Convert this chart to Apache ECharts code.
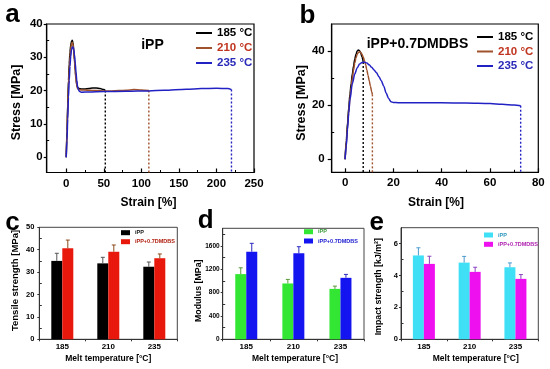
<!DOCTYPE html>
<html><head><meta charset="utf-8">
<script src="https://cdn.jsdelivr.net/npm/echarts@6/dist/echarts.min.js"></script>
<style>html,body{margin:0;padding:0;background:#fff}#c{width:550px;height:369px}</style>
</head><body><div id="c"></div>
<script>
// ---------------- data ----------------
const tempNames = ['185 °C', '210 °C', '235 °C'];
// panel a: iPP stress-strain
const curveA185 = [[0,0],[1,8],[2,16],[3,23],[4,28],[5,31.5],[6,33.6],[7,34.8],[8,35.1],[9,34.4],[10,32.3],[11,29.3],[12,26.2],[13,23.6],[14,21.9],[15,21],[17,20.6],[20,20.5],[25,20.5],[30,20.6],[35,20.8],[40,20.8],[45,20.6],[50,20.3],[52,20]];
const curveA210 = [[0,0],[1,7],[2,14.5],[3,21.5],[4,26.5],[5,30.2],[6,32.7],[7,34],[8,34.5],[9,33.9],[10,31.8],[11,28.8],[12,25.8],[13,23.2],[14,21.6],[15,20.7],[17,20.3],[20,20.2],[30,20.1],[40,20],[50,19.9],[60,19.9],[70,20],[80,20.1],[90,20.3],[100,20.2],[110,20]];
const curveA235 = [[0,0],[1,5],[2,11.5],[3,18],[4,23.2],[5,27.3],[6,30.3],[7,32.2],[8,33],[9,33.1],[10,32.4],[11,30.8],[12,28.3],[13,25.6],[14,23.2],[15,21.4],[16,20.3],[18,19.7],[20,19.5],[30,19.6],[50,19.7],[80,19.8],[110,19.9],[130,20.1],[160,20.4],[180,20.6],[200,20.7],[215,20.6],[220,20.3]];
const breakA = [[52,20],[110,20],[220,20.3]];
// panel b: iPP+0.7DMDBS stress-strain
const curveB185 = [[0,0],[0.5,7],[1,13.5],[1.5,19],[2,24],[2.5,28],[3,31.5],[3.5,34.5],[4,37],[4.5,38.8],[5,40],[5.5,40.4],[6,40.1],[6.5,39.2],[7,37.8],[7.5,36]];
const curveB210 = [[0,0],[0.5,6],[1,12],[1.5,17.5],[2,22.5],[2.5,26.5],[3,30],[3.5,33],[4,35.5],[4.5,37.5],[5,38.8],[5.5,39.5],[6,39.7],[6.5,39.5],[7,38.8],[7.5,37.8],[8,36.5],[8.5,35],[9,33],[9.5,31],[10,29],[10.5,27],[11,25],[11.3,24]];
const curveB235 = [[0,0],[0.5,5],[1,11],[1.5,17],[2,22],[3,28],[4,31.5],[5,33.8],[6,35.2],[7,35.8],[8,35.9],[9,35.6],[10,34.9],[11,34],[12,33],[13,32],[14,30.5],[15,29],[16,27],[17,24.5],[18,22.5],[19,21.3],[20,21],[22,20.9],[30,20.9],[40,20.9],[50,20.8],[60,20.6],[65,20.3],[70,20.1],[72.7,19.8]];
const breakB = [[7.5,36],[11.3,24],[72.7,19.8]];
// bar panels
const meltTemps = ['185', '210', '235'];
const tensileIPP = [35, 33.9, 32.4];
const tensileIPPErr = [3.4, 2.7, 2.1];
const tensileDM = [40.6, 39.1, 36.2];
const tensileDMErr = [3.7, 3.0, 1.9];
const modulusIPP = [1116, 956, 863];
const modulusIPPErr = [108, 69, 47];
const modulusDM = [1499, 1471, 1052];
const modulusDMErr = [144, 114, 59];
const impactIPP = [5.26, 4.81, 4.52];
const impactIPPErr = [0.48, 0.39, 0.27];
const impactDM = [4.73, 4.23, 3.79];
const impactDMErr = [0.48, 0.29, 0.27];
// tick labels
const ticksAx = [0, 50, 100, 150, 200, 250];
const minorAx = [25, 75, 125, 175, 225];
const ticksAy = [0, 10, 20, 30, 40];
const minorAy = [5, 15, 25, 35];
const ticksBx = [0, 20, 40, 60, 80];
const minorBx = [10, 30, 50, 70];
const ticksBy = [0, 20, 40];
const minorBy = [10, 30];
const ticksCy = [0, 10, 20, 30, 40, 50];
const minorCy = [5, 15, 25, 35, 45];
const ticksDy = [0, 400, 800, 1200, 1600];
const minorDy = [200, 600, 1000, 1400, 1800];
const ticksEy = [0, 2, 4, 6];
const minorEy = [1, 3, 5];

// ---------------- styling ----------------
const FF = 'Arial, "Liberation Sans", sans-serif';
const C_BLACK = '#000000', C_BROWN = '#a0522d', C_BLUE = '#2222c4';
const lineColors = [C_BLACK, C_BROWN, C_BLUE];
const textColors = ['#000000', '#c0341f', '#2a2ab8'];

const range = {
  a: {xmin: -26, xmax: 250, ymin: -4.6, ymax: 40},
  b: {xmin: -5.55, xmax: 80, ymin: -4.8, ymax: 50}
};

const chart = echarts.init(document.getElementById('c'), null, {renderer: 'canvas'});
const plain = v => String(v);

function valueX(grid, r, ticks, fs, margin) {
  return {type: 'value', gridIndex: grid, min: r.xmin, max: r.xmax, position: 'bottom',
    axisLine: {show: true, onZero: false, lineStyle: {color: '#000', width: 1.2}},
    axisTick: {show: true, inside: true, length: 4, customValues: ticks, lineStyle: {color: '#000', width: 1.2}},
    axisLabel: {show: true, customValues: ticks, formatter: plain, fontSize: fs, fontWeight: 'bold', fontFamily: FF, color: '#000', margin: margin},
    splitLine: {show: false}};
}
function valueY(grid, r, ticks, fs, margin, tlen) {
  return {type: 'value', gridIndex: grid, min: r.ymin, max: r.ymax, position: 'left',
    axisLine: {show: true, onZero: false, lineStyle: {color: '#000', width: 1.2}},
    axisTick: {show: true, inside: false, length: tlen, customValues: ticks, lineStyle: {color: '#000', width: 1.2}},
    axisLabel: {show: true, customValues: ticks, formatter: plain, fontSize: fs, fontWeight: 'bold', fontFamily: FF, color: '#000', margin: margin},
    splitLine: {show: false}};
}
function minorX(grid, min, max, vals, color) {
  return {type: 'value', gridIndex: grid, min: min, max: max, position: 'bottom', offset: 0,
    axisLine: {show: false, onZero: false}, axisLabel: {show: false}, splitLine: {show: false},
    axisTick: {show: true, inside: true, length: 2.5, customValues: vals, lineStyle: {color: color, width: 1}}};
}
function minorY(grid, min, max, vals, color) {
  return {type: 'value', gridIndex: grid, min: min, max: max, position: 'left', offset: 0,
    axisLine: {show: false, onZero: false}, axisLabel: {show: false}, splitLine: {show: false},
    axisTick: {show: true, inside: true, length: 2.5, customValues: vals, lineStyle: {color: color, width: 1}}};
}
function catX(grid) {
  return {type: 'category', gridIndex: grid, data: meltTemps,
    axisLine: {show: true, onZero: false, lineStyle: {color: '#333', width: 1}},
    axisTick: {show: true, inside: false, length: 2, lineStyle: {color: '#333'}},
    axisLabel: {fontSize: 8, fontWeight: 'bold', fontFamily: FF, color: '#000', margin: 3},
    splitLine: {show: false}};
}
function barY(grid, max, ticks, fs, margin) {
  return {type: 'value', gridIndex: grid, min: 0, max: max,
    axisLine: {show: true, onZero: false, lineStyle: {color: '#333', width: 1}},
    axisTick: {show: true, inside: false, length: 2, customValues: ticks, lineStyle: {color: '#333'}},
    axisLabel: {show: true, customValues: ticks, formatter: plain, fontSize: fs, fontWeight: 'bold', fontFamily: FF, color: '#000', margin: margin},
    splitLine: {show: false}};
}

function curve(name, data, color, xi, yi) {
  return {type: 'line', name: name, xAxisIndex: xi, yAxisIndex: yi, data: data, showSymbol: false,
    smooth: 0.3, smoothMonotone: 'x', lineStyle: {color: color, width: 1.5}, itemStyle: {color: color}, z: 3};
}
function dropLine(pt, ymin, color, xi, yi) {
  return {type: 'line', name: 'drop', xAxisIndex: xi, yAxisIndex: yi, data: [[pt[0], pt[1]], [pt[0], ymin]],
    showSymbol: false, silent: true, lineStyle: {color: color, width: 1.4, type: [2, 2]}, z: 2};
}
function bar(name, data, color, xi, yi) {
  return {type: 'bar', name: name, xAxisIndex: xi, yAxisIndex: yi, data: data, barWidth: 11, barGap: '0%',
    itemStyle: {color: color}};
}
function errBars(vals, errs, offset, color, xi, yi) {
  return {type: 'custom', name: 'err', xAxisIndex: xi, yAxisIndex: yi, silent: true,
    data: vals.map((v, i) => [i, v, errs[i]]), encode: {x: 0, y: 1}, z: 4,
    renderItem: function (params, api) {
      const i = api.value(0), v = api.value(1), e = api.value(2);
      const p0 = api.coord([i, v]);
      const p1 = api.coord([i, v + e]);
      const cx = p0[0] + offset;
      return {type: 'group', children: [
        {type: 'line', shape: {x1: cx, y1: p0[1], x2: cx, y2: p1[1]}, style: {stroke: color, lineWidth: 1}},
        {type: 'line', shape: {x1: cx - 2, y1: p1[1], x2: cx + 2, y2: p1[1]}, style: {stroke: color, lineWidth: 1}}
      ]};
    }};
}

function txt(text, x, y, fs, opts) {
  opts = opts || {};
  return {type: 'text', x: x, y: y, rotation: opts.rot || 0, z: 10,
    style: {text: text, fontSize: fs, fontWeight: 'bold', fontFamily: FF, fill: opts.color || '#000',
      align: 'center', verticalAlign: 'middle'}};
}

const barLegendBase = {orient: 'vertical', padding: 0, icon: 'rect', selectedMode: false,
  formatter: n => n.trim(), textStyle: {fontSize: 5.5, fontWeight: 'bold', fontFamily: FF, lineHeight: 7}};

const option = {
  animation: false,
  backgroundColor: '#fff',
  grid: [
    {left: 46.7, top: 24, width: 207.3, height: 148.5, show: true, borderColor: '#000', borderWidth: 1.2},
    {left: 331.7, top: 24, width: 206.6, height: 148.3, show: true, borderColor: '#000', borderWidth: 1.2},
    {left: 39.3, top: 227.3, width: 138, height: 112, show: true, borderColor: '#444', borderWidth: 1},
    {left: 222.7, top: 228.3, width: 141.3, height: 111, show: true, borderColor: '#444', borderWidth: 1},
    {left: 401, top: 227.7, width: 137.3, height: 111.6, show: true, borderColor: '#444', borderWidth: 1}
  ],
  xAxis: [
    valueX(0, range.a, ticksAx, 11.5, 5),
    valueX(1, range.b, ticksBx, 11.5, 5),
    catX(2), catX(3), catX(4),
    minorX(0, range.a.xmin, range.a.xmax, minorAx, '#000'),
    minorX(1, range.b.xmin, range.b.xmax, minorBx, '#000')
  ],
  yAxis: [
    valueY(0, range.a, ticksAy, 11.5, 4, 3),
    valueY(1, range.b, ticksBy, 11.5, 7, 4),
    barY(2, 50, ticksCy, 7.5, 5),
    barY(3, 1900, ticksDy, 6.5, 3),
    barY(4, 7, ticksEy, 7.5, 3),
    minorY(0, range.a.ymin, range.a.ymax, minorAy, '#000'),
    minorY(1, range.b.ymin, range.b.ymax, minorBy, '#000'),
    minorY(2, 0, 50, minorCy, '#333'),
    minorY(3, 0, 1900, minorDy, '#333'),
    minorY(4, 0, 7, minorEy, '#333')
  ],
  legend: [
    {left: 196, top: 27, orient: 'vertical', padding: 0, itemGap: 3, itemWidth: 16, itemHeight: 2, icon: 'rect',
      selectedMode: false, textStyle: {fontSize: 11.5, fontWeight: 'bold', fontFamily: FF, lineHeight: 12},
      data: tempNames.map((n, i) => ({name: n, textStyle: {color: textColors[i]}}))},
    {left: 477, top: 31, orient: 'vertical', padding: 0, itemGap: 2.5, itemWidth: 16, itemHeight: 2, icon: 'rect',
      selectedMode: false, textStyle: {fontSize: 11.5, fontWeight: 'bold', fontFamily: FF, lineHeight: 12},
      data: tempNames.map((n, i) => ({name: n, textStyle: {color: textColors[i]}}))},
    Object.assign({}, barLegendBase, {left: 121, top: 229.2, itemWidth: 9, itemHeight: 5, itemGap: 2,
      data: [{name: 'iPP', textStyle: {color: '#111'}}, {name: 'iPP+0.7DMDBS', textStyle: {color: '#b02010'}}]}),
    Object.assign({}, barLegendBase, {left: 304, top: 228.2, itemWidth: 9, itemHeight: 5, itemGap: 2.3,
      data: [{name: 'iPP ', textStyle: {color: '#3a9a3a'}}, {name: 'iPP+0.7DMDBS ', textStyle: {color: '#1a1ad0'}}]}),
    Object.assign({}, barLegendBase, {left: 484, top: 231.5, itemWidth: 9, itemHeight: 5, itemGap: 2.3,
      data: [{name: 'iPP  ', textStyle: {color: '#3098c0'}}, {name: 'iPP+0.7DMDBS  ', textStyle: {color: '#b020b0'}}]})
  ],
  series: [
    curve(tempNames[0], curveA185, lineColors[0], 0, 0),
    curve(tempNames[1], curveA210, lineColors[1], 0, 0),
    curve(tempNames[2], curveA235, lineColors[2], 0, 0),
    ...breakA.map((p, i) => dropLine(p, range.a.ymin, lineColors[i], 0, 0)),
    curve(tempNames[0], curveB185, lineColors[0], 1, 1),
    curve(tempNames[1], curveB210, lineColors[1], 1, 1),
    curve(tempNames[2], curveB235, lineColors[2], 1, 1),
    ...breakB.map((p, i) => dropLine(p, range.b.ymin, lineColors[i], 1, 1)),
    bar('iPP', tensileIPP, '#000000', 2, 2),
    bar('iPP+0.7DMDBS', tensileDM, '#e8190c', 2, 2),
    errBars(tensileIPP, tensileIPPErr, -5.5, '#555', 2, 2),
    errBars(tensileDM, tensileDMErr, 5.5, '#8b4a1a', 2, 2),
    bar('iPP ', modulusIPP, '#33e633', 3, 3),
    bar('iPP+0.7DMDBS ', modulusDM, '#1414f0', 3, 3),
    errBars(modulusIPP, modulusIPPErr, -5.5, '#5a9a3a', 3, 3),
    errBars(modulusDM, modulusDMErr, 5.5, '#2a2ac0', 3, 3),
    bar('iPP  ', impactIPP, '#3fe0f5', 4, 4),
    bar('iPP+0.7DMDBS  ', impactDM, '#ee10ee', 4, 4),
    errBars(impactIPP, impactIPPErr, -5.5, '#4a9ad0', 4, 4),
    errBars(impactDM, impactDMErr, 5.5, '#8a40c0', 4, 4)
  ],
  graphic: [
    txt('a', 12.5, 15, 26),
    txt('b', 307.5, 15.5, 26),
    txt('c', 12.5, 223, 26),
    txt('d', 205.8, 220.5, 26),
    txt('e', 376.7, 222.5, 26),
    txt('iPP', 152.5, 45, 14),
    txt('iPP+0.7DMDBS', 417.5, 44, 14),
    txt('Stress [MPa]', 17, 102.5, 12.5, {rot: Math.PI / 2}),
    txt('Stress [MPa]', 301.7, 103, 12.5, {rot: Math.PI / 2}),
    txt('Strain [%]', 148.5, 203, 12),
    txt('Strain [%]', 436, 203, 12),
    txt('Tensile strength [MPa]', 15.8, 280.5, 9.5, {rot: Math.PI / 2}),
    txt('Modulus [MPa]', 198.3, 290.8, 8.8, {rot: Math.PI / 2}),
    txt('Impact strength [kJ/m²]', 379, 286.7, 8.8, {rot: Math.PI / 2}),
    txt('Melt temperature [°C]', 108.3, 358.3, 8.5),
    txt('Melt temperature [°C]', 295, 358.3, 8.5),
    txt('Melt temperature [°C]', 475.8, 359, 8.5)
  ]
};
chart.setOption(option);
</script>
</body></html>
